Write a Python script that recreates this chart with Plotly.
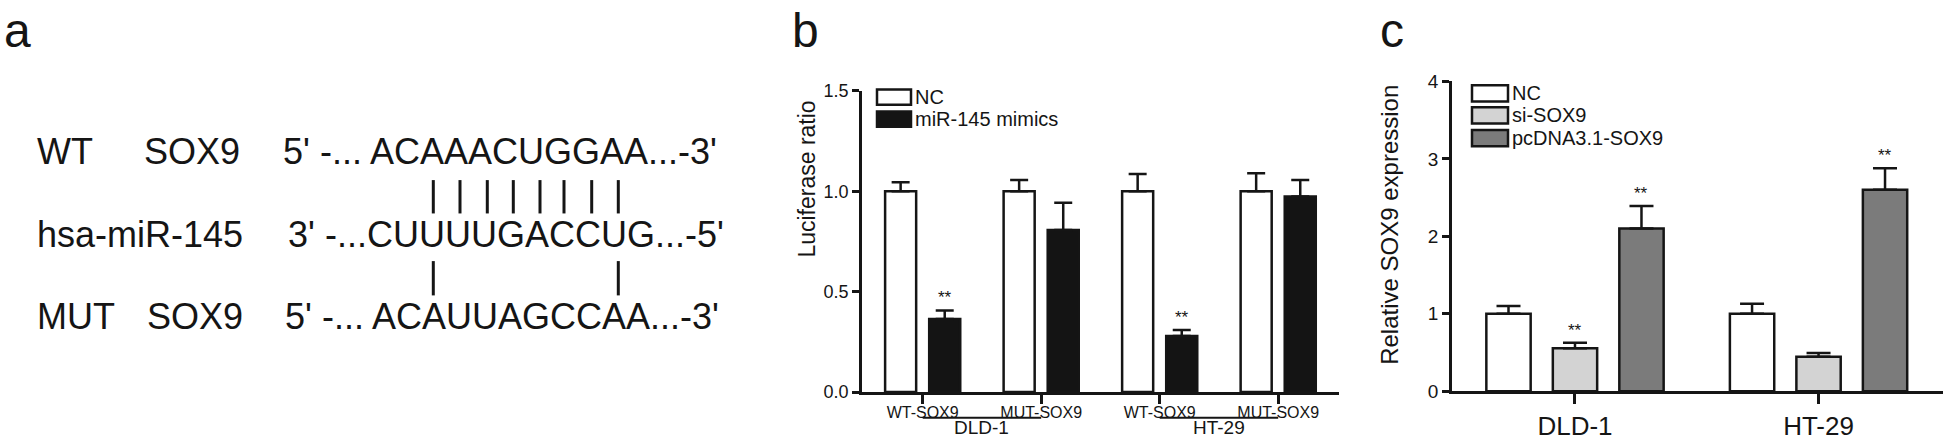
import plotly.graph_objects as go

# ---------------- data ----------------
# panel a (sequence alignment)
row_labels = ["WT", "hsa-miR-145", "MUT"]
row_genes = ["SOX9", "", "SOX9"]
row_seqs = ["5' -... ACAAACUGGAA...-3'", "3' -...CUUUUGACCUG...-5'", "5' -... ACAUUAGCCAA...-3'"]

# panel b (luciferase)
b_sites = ["WT-SOX9", "MUT-SOX9", "WT-SOX9", "MUT-SOX9"]
b_lines = ["DLD-1", "DLD-1", "HT-29", "HT-29"]
b_nc = [1.00, 1.00, 1.00, 1.00]
b_nc_err = [0.045, 0.057, 0.087, 0.09]
b_mim = [0.364, 0.808, 0.280, 0.974]
b_mim_err = [0.043, 0.135, 0.030, 0.083]
b_mim_sig = ["**", "", "**", ""]
b_series = ["NC", "miR-145 mimics"]

# panel c (relative expression)
c_lines = ["DLD-1", "HT-29"]
c_series = ["NC", "si-SOX9", "pcDNA3.1-SOX9"]
c_vals = [[1.00, 1.00], [0.554, 0.443], [2.10, 2.60]]
c_errs = [[0.10, 0.13], [0.07, 0.05], [0.29, 0.28]]
c_sig = [["", ""], ["**", ""], ["**", "**"]]

# ---------------- style ----------------
W, H = 1946, 446
FONT = "Liberation Sans, Arial, sans-serif"
INK = "#151515"
B_COLORS = ["#ffffff", "#141414"]
C_COLORS = ["#ffffff", "#d3d3d3", "#7b7b7b"]
LW = 2.5


def px(x):
    return x / W


def py(y):
    return 1 - y / H


fig = go.Figure()

# ---------------- panel b bars ----------------
b_x = list(range(len(b_sites)))
bw, bshift = 0.262, 0.186
for k, (vals, errs, col, name) in enumerate(
        [(b_nc, b_nc_err, B_COLORS[0], b_series[0]), (b_mim, b_mim_err, B_COLORS[1], b_series[1])]):
    sh = -bshift if k == 0 else bshift
    fig.add_trace(go.Bar(
        x=b_x, y=vals, name=name, width=bw, offset=sh - bw / 2,
        marker=dict(color=col, line=dict(color=INK, width=LW)),
        error_y=dict(type="data", array=errs, arrayminus=[0] * len(errs), symmetric=False,
                     color=INK, thickness=LW, width=9),
        xaxis="x", yaxis="y", showlegend=False))

for i, s in enumerate(b_mim_sig):
    if s:
        fig.add_annotation(x=b_x[i] + bshift, y=b_mim[i] + b_mim_err[i], xref="x", yref="y",
                           text=s, showarrow=False, yanchor="bottom", yshift=1,
                           font=dict(size=17, color=INK, family=FONT))

# group underline + labels for panel b
groups = []
for i, g in enumerate(b_lines):
    if not groups or groups[-1][0] != g:
        groups.append([g, i, i])
    else:
        groups[-1][2] = i
for g, i0, i1 in groups:
    fig.add_shape(type="line", xref="x", yref="paper", x0=b_x[i0], x1=b_x[i1],
                  y0=py(428), y1=py(428), line=dict(color=INK, width=2))
    fig.add_annotation(x=(b_x[i0] + b_x[i1]) / 2, y=py(438), xref="x", yref="paper",
                       text=g, showarrow=False, yanchor="middle",
                       font=dict(size=19, color=INK, family=FONT))

# ---------------- panel c bars ----------------
c_x = list(range(len(c_lines)))
cw, cshift = 0.182, 0.273
for k, name in enumerate(c_series):
    sh = (k - 1) * cshift
    fig.add_trace(go.Bar(
        x=c_x, y=c_vals[k], name=name, width=cw, offset=sh - cw / 2,
        marker=dict(color=C_COLORS[k], line=dict(color=INK, width=LW)),
        error_y=dict(type="data", array=c_errs[k], arrayminus=[0] * len(c_x), symmetric=False,
                     color=INK, thickness=LW, width=12),
        xaxis="x2", yaxis="y2", showlegend=False))
    for i, s in enumerate(c_sig[k]):
        if s:
            fig.add_annotation(x=c_x[i] + sh, y=c_vals[k][i] + c_errs[k][i], xref="x2", yref="y2",
                               text=s, showarrow=False, yanchor="bottom", yshift=1,
                               font=dict(size=17, color=INK, family=FONT))

# ---------------- manual legends ----------------
def legend(names, colors, x0, x1, ys, tx, size):
    for n, c, (ya, yb) in zip(names, colors, ys):
        fig.add_shape(type="rect", xref="paper", yref="paper", x0=px(x0), x1=px(x1),
                      y0=py(yb), y1=py(ya), fillcolor=c, line=dict(color=INK, width=LW))
        fig.add_annotation(x=px(tx), y=py((ya + yb) / 2), xref="paper", yref="paper",
                           text=n, showarrow=False, xanchor="left", yanchor="middle",
                           font=dict(size=size, color=INK, family=FONT))


legend(b_series, B_COLORS, 877, 911, [(83.5, 99.5), (106.5, 122.5)], 913, 20)
legend(c_series, C_COLORS, 1472, 1508, [(79, 96), (102, 119), (126, 143)], 1510, 20)

# ---------------- axis titles ----------------
fig.add_annotation(x=px(807), y=py(178), xref="paper", yref="paper", text="Luciferase ratio",
                   textangle=-90, showarrow=False, font=dict(size=23, color=INK, family=FONT))
fig.add_annotation(x=px(1405), y=py(226), xref="paper", yref="paper", text="Relative SOX9 expression",
                   textangle=-90, showarrow=False, font=dict(size=24, color=INK, family=FONT))

# ---------------- panel letters ----------------
for letter, lx in [("a", 2), ("b", 790), ("c", 1378)]:
    fig.add_annotation(x=px(lx), y=py(22), xref="paper", yref="paper", text=letter,
                       showarrow=False, xanchor="left", yanchor="middle",
                       font=dict(size=48, color=INK, family=FONT))

# ---------------- panel a text ----------------
row_y = [149, 236, 322]
label_x = [35, 35, 35]
gene_x = [142, 0, 145]
seq_x = [281, 285.5, 283]
for i in range(3):
    fig.add_annotation(x=px(label_x[i]), y=py(row_y[i]), xref="paper", yref="paper",
                       text=row_labels[i], showarrow=False, xanchor="left", yanchor="middle",
                       font=dict(size=36, color=INK, family=FONT))
    if row_genes[i]:
        fig.add_annotation(x=px(gene_x[i]), y=py(row_y[i]), xref="paper", yref="paper",
                           text=row_genes[i], showarrow=False, xanchor="left", yanchor="middle",
                           font=dict(size=36, color=INK, family=FONT))
    fig.add_annotation(x=px(seq_x[i]), y=py(row_y[i]), xref="paper", yref="paper",
                       text=row_seqs[i], showarrow=False, xanchor="left", yanchor="middle",
                       font=dict(size=36, color=INK, family=FONT))

# pairing bars
top_pairs_x = [433.3, 460, 487.3, 513.3, 540, 564, 591.7, 618.3]
bot_pairs_x = [433.3, 618.3]
for xx in top_pairs_x:
    fig.add_shape(type="line", xref="paper", yref="paper", x0=px(xx), x1=px(xx),
                  y0=py(178.5), y1=py(213.5), line=dict(color=INK, width=3))
for xx in bot_pairs_x:
    fig.add_shape(type="line", xref="paper", yref="paper", x0=px(xx), x1=px(xx),
                  y0=py(263.5), y1=py(299.5), line=dict(color=INK, width=3))

# ---------------- axes ----------------
axis_common = dict(showline=True, linecolor=INK, linewidth=LW, ticks="outside", tickcolor=INK,
                   tickwidth=LW, showgrid=False, zeroline=False, fixedrange=True)

fig.update_layout(
    width=W, height=H, margin=dict(l=0, r=0, t=0, b=0),
    paper_bgcolor="white", plot_bgcolor="white",
    font=dict(family=FONT, color=INK),
    barmode="overlay",
    xaxis=dict(domain=[px(862), px(1339)], range=[-0.512, 3.513], anchor="y",
               tickmode="array", tickvals=b_x, ticktext=b_sites, ticklen=9, ticklabelstandoff=-5,
               tickfont=dict(size=16, color=INK, family=FONT), **axis_common),
    yaxis=dict(domain=[py(401), py(85)], range=[0, 1.5], anchor="x", dtick=0.5, tickformat=".1f",
               ticklen=7, tickfont=dict(size=18, color=INK, family=FONT), **axis_common),
    xaxis2=dict(domain=[px(1452), px(1943)], range=[-0.505, 1.511], anchor="y2",
                tickmode="array", tickvals=c_x, ticktext=c_lines, ticklen=10,
                tickfont=dict(size=26, color=INK, family=FONT), **axis_common),
    yaxis2=dict(domain=[py(400), py(75)], range=[0, 4], anchor="x2", dtick=1,
                ticklen=7, tickfont=dict(size=19, color=INK, family=FONT), **axis_common),
)

fig.write_html("out.html", config={"displayModeBar": False},
               post_script="document.body.style.margin='0px';document.body.style.overflow='hidden';")
